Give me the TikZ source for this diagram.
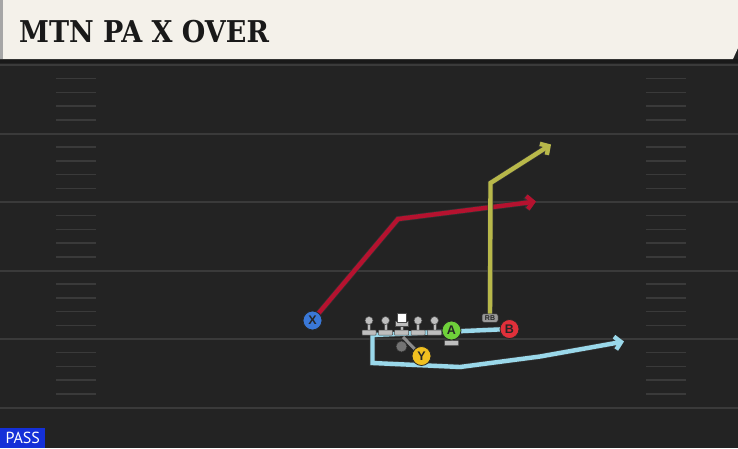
\documentclass[tikz,border=0pt]{standalone}
\usepackage{fontspec}
\setsansfont{Liberation Sans}
\newfontfamily\titlefont{DejaVu Serif Condensed}
\newfontfamily\tagfont{PT Sans}
\usetikzlibrary{arrows.meta}
\definecolor{field}{HTML}{232323}
\definecolor{yardline}{HTML}{3A3A3A}
\definecolor{header}{HTML}{F4F1EA}
\definecolor{redroute}{HTML}{B5122F}
\definecolor{oliveroute}{HTML}{B8B84A}
\definecolor{skyroute}{HTML}{9AD8EA}
\definecolor{xblue}{HTML}{3A78D8}
\definecolor{agreen}{HTML}{6FD13A}
\definecolor{bred}{HTML}{E0303A}
\definecolor{yyellow}{HTML}{F0C020}
\definecolor{lineman}{HTML}{BEBEBE}
\definecolor{passblue}{HTML}{1430D8}
\begin{document}
\begin{tikzpicture}[x=1pt, y=-1pt,
	player/.style={circle, draw=black!85, line width=0.8pt, minimum size=19pt, inner sep=0pt, text=black!85, font=\sffamily\bfseries\fontsize{12.5}{12.5}\selectfont},
	route/.style={line width=4.4pt, line join=miter, -{Straight Barb[length=6pt, width=13pt]}, preaction={draw=black!80, line width=5.8pt}},
	lman/.style={fill=lineman, draw=black!70, line width=0.5pt}]
		\useasboundingbox (0,0) rectangle (738,448);
		\fill[field] (0,0) rectangle (738,448);
		
		% yard lines and hash marks
		\foreach \y in {65, 133.5, 202, 270.5, 339, 407.5}
		{
			\draw[yardline, line width=2pt] (0,\y) -- (738,\y);
		}
		\foreach \y in {65, 133.5, 202, 270.5, 339}
		{
			\foreach \k in {1, 2, 3, 4}
			{
				\draw[yardline, line width=1.5pt] (56, \y + 13.7*\k) -- (96, \y + 13.7*\k);
				\draw[yardline, line width=1.5pt] (646, \y + 13.7*\k) -- (686, \y + 13.7*\k);
			}
		}
		
		% header
		\fill[black!90] (0,59) rectangle (738,63);
		\fill[header] (0,0) -- (738,0) -- (738,48) -- (733,59) -- (0,59) -- cycle;
		\fill[black!35] (0,0) rectangle (3,59);
		\node[anchor=west, inner sep=0pt, text=black!90, font=\titlefont\bfseries\fontsize{30}{30}\selectfont] (title) at (19,32) {MTN PA X OVER};
		
		% player spots
		\coordinate (posX) at (312.5,320.5);
		\coordinate (posA) at (451.5,330.5);
		\coordinate (posB) at (509.5,329);
		\coordinate (posY) at (421.5,356);
		\coordinate (posRB) at (490,318);
		
		% routes
		\draw[route, redroute] (posX) -- (398,219) -- (536,201.5);
		\draw[route, oliveroute] (posRB) -- (490.5,183) -- (551,144.5);
		\draw[route, skyroute] (posB) -- (372.5,335) -- (372.5,363) -- (460,367) -- (540,356.5) -- (624,341.5);
		\draw[black!45, line width=3pt] (403,337) -- (posY);
		
		% line
		\foreach \x in {369, 385.5, 418, 434.5}
		{
			\draw[lman] (\x-1.7,321) rectangle (\x+1.7,331);
			\draw[lman] (\x,320.5) circle (4);
			\draw[lman, rounded corners=0.5pt] (\x-7,330) rectangle (\x+7,335);
		}
		\draw[lman] (401.5-1.7,325) rectangle (401.5+1.7,331);
		\draw[lman] (395.5,321.5) rectangle (408.5,326);
		\draw[fill=white, draw=black!70, line width=0.5pt] (397.5,313) rectangle (406,322);
		\draw[lman, rounded corners=0.5pt] (394.5,330) rectangle (408.5,335);
		\draw[fill=black!55, draw=black!80, line width=0.5pt] (401.5,346.5) circle (5.5);
		
		% A stand
		\draw[lman] (449.8,338) rectangle (453.2,342);
		\draw[lman, rounded corners=0.5pt] (444.5,340.5) rectangle (458.5,345.5);
		
		% players
		\node[player, fill=xblue] (X) at (posX) {X};
		\node[player, fill=agreen] (A) at (posA) {A};
		\node[player, fill=bred] (B) at (posB) {B};
		\node[player, fill=yyellow] (Y) at (posY) {Y};
		\node[fill=black!40, draw=black!80, line width=0.5pt, rounded corners=2pt, minimum width=16pt, minimum height=8.5pt, inner sep=0pt, text=black!85, font=\sffamily\bfseries\fontsize{7}{7}\selectfont] (RB) at (posRB) {RB};
		
		% play type
		\node[fill=passblue, text=white, anchor=south west, minimum width=45pt, minimum height=20pt, inner sep=0pt, font=\tagfont\fontsize{16}{16}\selectfont] (pass) at (0,448) {PASS};
	\end{tikzpicture}
\end{document}
